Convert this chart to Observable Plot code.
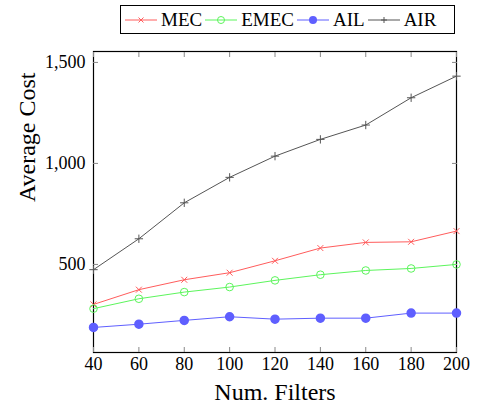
<!DOCTYPE html>
<html>
<head>
<meta charset="utf-8">
<script src="https://cdn.jsdelivr.net/npm/d3@7"></script>
<script src="https://cdn.jsdelivr.net/npm/@observablehq/plot@0.6"></script>
<style>
  body { margin: 0; background: #fff; font-family: "Liberation Serif", "DejaVu Serif", serif; }
  #wrap { position: relative; width: 481px; height: 413px; }
  #legend { position: absolute; left: 120px; top: 5px; width: 335px; height: 29px; border: 1px solid #000;
    display: flex; align-items: center; font-size: 19px; box-sizing: border-box; padding-left: 4px; background: #fff; }
  #legend .item { display: flex; align-items: center; margin-right: 3px; }
  #legend svg { margin-right: 4px; }
</style>
</head>
<body>
<div id="wrap"><div id="legend"></div></div>
<script>
const numFilters = [40, 60, 80, 100, 120, 140, 160, 180, 200];
const seriesNames = ["MEC", "EMEC", "AIL", "AIR"];
const mec  = [302, 375, 424, 459, 518, 581, 609, 612, 665];
const emec = [281, 330, 363, 388, 421, 449, 470, 480, 500];
const ail  = [188, 204, 223, 241, 229, 234, 234, 259, 259];
const air  = [474, 627, 805, 931, 1036, 1119, 1190, 1325, 1432];
const yTicks = [500, 1000, 1500];
const xLabel = "Num. Filters";
const yLabel = "Average Cost";

const colors = {MEC: "#ff5c5c", EMEC: "#5cf55c", AIL: "#5f5fff", AIR: "#555555"};
const symbols = {MEC: "times", EMEC: "circle", AIL: "circle", AIR: "plus"};
const values = {MEC: mec, EMEC: emec, AIL: ail, AIR: air};

const data = seriesNames.flatMap(s => numFilters.map((n, i) => ({series: s, n, v: values[s][i]})));
const font = "Liberation Serif, DejaVu Serif, serif";

const marks = [
  Plot.frame({stroke: "#000", strokeWidth: 1.2}),
  // inward ticks on all four sides
  Plot.axisX({anchor: "bottom", ticks: numFilters, tickSize: -5, tickFormat: () => "", stroke: "#888", label: null}),
  Plot.axisX({anchor: "top", ticks: numFilters, tickSize: -5, tickFormat: () => "", stroke: "#888", label: null}),
  Plot.axisY({anchor: "left", ticks: yTicks, tickSize: -5, tickFormat: () => "", stroke: "#888", label: null}),
  Plot.axisY({anchor: "right", ticks: yTicks, tickSize: -5, tickFormat: () => "", stroke: "#888", label: null}),
  // tick labels
  Plot.axisX({anchor: "bottom", ticks: numFilters, tickSize: 0, tickPadding: 5, fontSize: 18, fontFamily: font, fill: "#000", label: null}),
  Plot.axisY({anchor: "left", ticks: yTicks, tickSize: 0, tickPadding: 8, fontSize: 18, fontFamily: font, fill: "#000", tickFormat: d3.format(","), label: null}),
  // axis titles
  Plot.text([xLabel], {frameAnchor: "bottom", dy: 47, fontSize: 24, fontFamily: font, fill: "#000"}),
  Plot.text([yLabel], {frameAnchor: "left", rotate: -90, dx: -66, fontSize: 24, fontFamily: font, fill: "#000"}),
];
for (const s of seriesNames) {
  const d = data.filter(r => r.series === s);
  marks.push(Plot.line(d, {x: "n", y: "v", stroke: colors[s], strokeWidth: 1}));
  if (s === "AIL") {
    marks.push(Plot.dot(d, {x: "n", y: "v", r: 4, fill: colors[s], stroke: colors[s]}));
  } else if (s === "EMEC") {
    marks.push(Plot.dot(d, {x: "n", y: "v", r: 3.8, fill: "none", stroke: colors[s], strokeWidth: 1}));
  } else {
    marks.push(Plot.dot(d, {x: "n", y: "v", symbol: () => symbols[s], r: 2.8, stroke: colors[s], strokeWidth: 1}));
  }
}

const chart = Plot.plot({
  width: 481,
  height: 413,
  marginTop: 51,
  marginBottom: 61,
  marginLeft: 93,
  marginRight: 25,
  style: {background: "transparent", fontFamily: font},
  x: {domain: [40, 200], axis: null},
  y: {domain: [64, 1554], axis: null},
  symbol: {type: "identity"},
  marks
});
const wrap = document.getElementById("wrap");
wrap.insertBefore(chart, wrap.firstChild);
chart.style.position = "absolute";
chart.style.left = "0";
chart.style.top = "0";

// legend
const legend = document.getElementById("legend");
for (const s of seriesNames) {
  const item = document.createElement("div");
  item.className = "item";
  const c = colors[s];
  let marker = "";
  if (s === "MEC") marker = `<path d="M13.5,-2.5L18.5,2.5M13.5,2.5L18.5,-2.5" stroke="${c}" stroke-width="1"/>`;
  if (s === "EMEC") marker = `<circle cx="16" r="3.5" fill="none" stroke="${c}" stroke-width="1"/>`;
  if (s === "AIL") marker = `<circle cx="16" r="4" fill="${c}"/>`;
  if (s === "AIR") marker = `<path d="M16,-3V3M13,0H19" stroke="${c}" stroke-width="1"/>`;
  item.innerHTML = `<svg width="32" height="12" viewBox="0 -6 32 12"><line x1="0" x2="32" y1="0" y2="0" stroke="${c}" stroke-width="1"/>${marker}</svg><span>${s}</span>`;
  legend.appendChild(item);
}
document.getElementById("legend").style.zIndex = 2;
</script>
</body>
</html>
